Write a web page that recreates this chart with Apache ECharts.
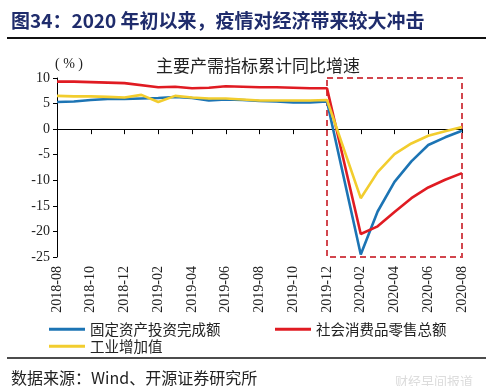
<!DOCTYPE html>
<html><head><meta charset="utf-8">
<script src="https://cdn.jsdelivr.net/npm/echarts@6/dist/echarts.min.js"></script>
<style>html,body{margin:0;padding:0;background:#fff}#c{width:500px;height:386px}</style>
</head><body><div id="c"></div>
<script>
const categories = ['2018-08','2018-09','2018-10','2018-11','2018-12','2019-01','2019-02','2019-03','2019-04','2019-05','2019-06','2019-07','2019-08','2019-09','2019-10','2019-11','2019-12','2020-01','2020-02','2020-03','2020-04','2020-05','2020-06','2020-07','2020-08'];
const fixedInvest = [5.3,5.4,5.7,5.9,5.9,null,6.1,6.3,6.1,5.6,5.8,5.7,5.5,5.4,5.2,5.2,5.4,null,-24.5,-16.1,-10.3,-6.3,-3.1,-1.6,-0.3];
const retailSales = [9.3,9.3,9.2,9.1,9.0,null,8.2,8.3,8.0,8.1,8.4,8.3,8.2,8.2,8.1,8.0,8.0,null,-20.5,-19.0,-16.2,-13.5,-11.4,-9.9,-8.6];
const industrial = [6.5,6.4,6.4,6.3,6.2,6.7,5.3,6.5,6.2,6.0,6.0,5.8,5.6,5.6,5.6,5.6,5.7,null,-13.5,-8.4,-4.9,-2.8,-1.3,-0.4,0.4];
const seriesNames = ['固定资产投资完成额','社会消费品零售总额','工业增加值'];
const yTicks = {min:-25, max:10, interval:5};
const highlightRange = ['2019-12','2020-08'];

const serif = '"Liberation Serif","Times New Roman",serif';
const cjk = '"Noto Sans CJK SC",sans-serif';
const colors = ['#1c74b4','#e01b22','#f2cd2e'];
const chart = echarts.init(document.getElementById('c'));
const mk = (name, data, i) => ({
  name, type:'line', data, xAxisIndex:0, connectNulls:true, symbol:'none', smooth:false,
  lineStyle:{width:2.6,color:colors[i]}, itemStyle:{color:colors[i]}, clip:false
});
const s0 = mk(seriesNames[0], fixedInvest, 0);
const s1 = mk(seriesNames[1], retailSales, 1);
const s2 = mk(seriesNames[2], industrial, 2);
s0.markArea = {silent:true, itemStyle:{color:'rgba(0,0,0,0)', borderColor:'#d2464e', borderWidth:2, borderType:[6,4]},
  data:[[{xAxis:highlightRange[0], yAxis:10.6},{xAxis:highlightRange[1], yAxis:-25.2}]]};
const legendBase = {icon:'rect', itemWidth:36, itemHeight:3, itemGap:6, textStyle:{fontFamily:cjk,fontSize:14.5,color:'#222'}};
chart.setOption({
  animation:false,
  title:[
    {text:'图34：2020 年初以来，疫情对经济带来较大冲击', left:6, top:6, textStyle:{fontFamily:cjk,fontSize:19,fontWeight:'bold',color:'#1f2c6c'}},
    {text:'主要产需指标累计同比增速', left:253, textAlign:'center', top:52, textStyle:{fontFamily:cjk,fontSize:17,fontWeight:'normal',color:'#222'}},
    {text:'数据来源：Wind、开源证券研究所', left:6, top:365, textStyle:{fontFamily:cjk,fontSize:16,fontWeight:'normal',color:'#222'}}
  ],
  grid:{left:57, right:38, top:78, bottom:129},
  legend:[
    Object.assign({data:[seriesNames[0]], left:44, top:317}, legendBase),
    Object.assign({data:[seriesNames[1]], left:270, top:317}, legendBase),
    Object.assign({data:[seriesNames[2]], left:44, top:334}, legendBase)
  ],
  xAxis:[
    {type:'category', data:categories, boundaryGap:false, position:'bottom',
     axisLine:{show:false, onZero:false}, axisTick:{show:false},
     axisLabel:{interval:1, rotate:90, fontFamily:serif, fontSize:14, color:'#222', margin:9}},
    {type:'category', data:categories, boundaryGap:false, position:'top',
     axisLine:{show:true, onZero:true, lineStyle:{color:'#000',width:1}},
     axisTick:{show:true, inside:true, interval:1, length:5, lineStyle:{color:'#000'}},
     axisLabel:{show:false}}
  ],
  yAxis:{type:'value', min:yTicks.min, max:yTicks.max, interval:yTicks.interval,
    name:'( % )', nameLocation:'end', nameGap:3,
    nameTextStyle:{fontFamily:serif, fontSize:14, color:'#222', align:'left', padding:[0,0,0,-2]},
    axisLine:{show:true, lineStyle:{color:'#000',width:1}}, axisTick:{show:true, length:4, lineStyle:{color:'#000'}},
    splitLine:{show:false},
    axisLabel:{fontFamily:serif, fontSize:14, color:'#222', margin:7}},
  graphic:[
    {type:'line', shape:{x1:7,y1:38,x2:486,y2:38}, style:{stroke:'#111',lineWidth:2}},
    {type:'line', shape:{x1:7,y1:358,x2:486,y2:358}, style:{stroke:'#111',lineWidth:1.5}},
    {type:'text', left:395, top:375, style:{text:'财经早间报道', fill:'#dcdcdc', font:'13px '+cjk}}
  ],
  series:[s0, s1, s2]
});
</script></body></html>
